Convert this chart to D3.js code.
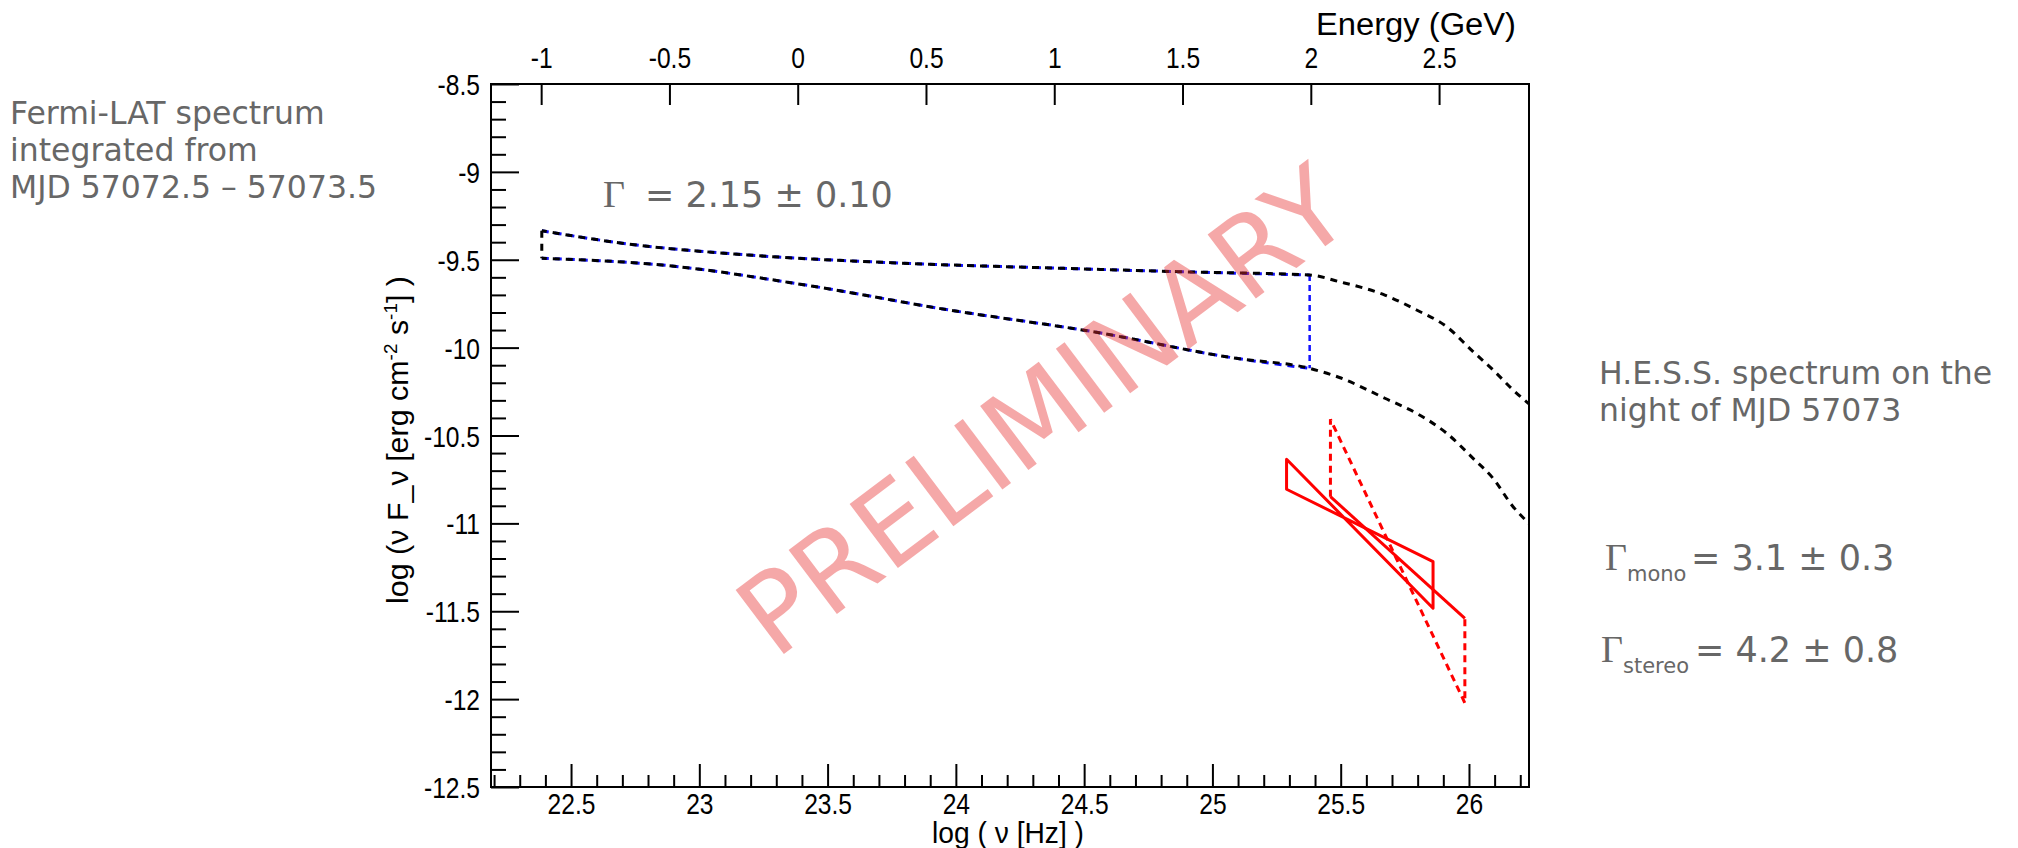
<!DOCTYPE html>
<html><head><meta charset="utf-8">
<script src="https://cdn.jsdelivr.net/npm/d3@7"></script>
<style>body{margin:0;background:#fff}svg{display:block}</style>
</head><body><svg id="c" width="2018" height="848"></svg>
<script>
// ---------------- data ----------------
// Fermi-LAT envelope (log nu [Hz], log nuFnu)
const upperNu  = [22.386, 22.699, 23.191, 23.750, 24.421, 24.869, 25.379, 25.495, 25.672, 25.796, 25.913, 26.016, 26.094, 26.172, 26.234];
const upperVal = [-9.335, -9.406, -9.473, -9.517, -9.549, -9.568, -9.587, -9.625, -9.701, -9.786, -9.881, -10.023, -10.127, -10.241, -10.32];
const lowerNu  = [22.386, 22.855, 23.414, 23.974, 24.533, 25.093, 25.379, 25.495, 25.672, 25.796, 25.913, 26.016, 26.094, 26.172, 26.234];
const lowerVal = [-9.492, -9.530, -9.644, -9.786, -9.909, -10.061, -10.118, -10.17, -10.288, -10.374, -10.487, -10.63, -10.744, -10.905, -11.0];
const fermiEndNu = 25.379;           // blue segment ends here (100 GeV)
// H.E.S.S. bowties: [nu_left, nu_right], steep edge, shallow edge
const monoNu = [25.289, 25.860];
const monoSteep = [-10.635, -11.483];
const monoShallow = [-10.806, -11.218];
const stereoNu = [25.460, 25.984];
const stereoSteep = [-10.408, -12.022];
const stereoShallow = [-10.848, -11.540];
// ticks
const xMajor = [22.5, 23, 23.5, 24, 24.5, 25, 25.5, 26];
const xMinor = [22.2,22.3,22.4,22.6,22.7,22.8,22.9,23.1,23.2,23.3,23.4,23.6,23.7,23.8,23.9,24.1,24.2,24.3,24.4,24.6,24.7,24.8,24.9,25.1,25.2,25.3,25.4,25.6,25.7,25.8,25.9,26.1,26.2];
const yMajor = [-8.5, -9, -9.5, -10, -10.5, -11, -11.5, -12, -12.5];
const yMinor = [-8.6,-8.7,-8.8,-8.9,-9.1,-9.2,-9.3,-9.4,-9.6,-9.7,-9.8,-9.9,-10.1,-10.2,-10.3,-10.4,-10.6,-10.7,-10.8,-10.9,-11.1,-11.2,-11.3,-11.4,-11.6,-11.7,-11.8,-11.9,-12.1,-12.2,-12.3,-12.4];
const eTicks = [-1, -0.5, 0, 0.5, 1, 1.5, 2, 2.5];
const HZ_PER_GEV_LOG = 23.3835;

// ---------------- scales ----------------
const X0 = 491, X1 = 1529, Y0 = 84, Y1 = 787;
const x = d3.scaleLinear().domain([22.188, 26.234]).range([X0, X1]);
const y = d3.scaleLinear().domain([-12.5, -8.5]).range([Y1, Y0]);
const xe = d3.scaleLinear().domain([22.188 - HZ_PER_GEV_LOG, 26.234 - HZ_PER_GEV_LOG]).range([X0, X1]);

const svg = d3.select('#c');
svg.append('rect').attr('width', 2018).attr('height', 848).attr('fill', '#fff');

const AX_FONT = 'Liberation Sans, Arial, Helvetica, sans-serif';
const fmt = d => String(d);
const SX = 0.82;

function styleAxis(g) {
  g.select('.domain').remove();
  g.selectAll('.tick line').attr('stroke', '#000').attr('stroke-width', 2);
  g.selectAll('.tick text').attr('fill', '#000').style('font-family', AX_FONT).style('font-size', '30px');
}

// bottom axis
const gb = svg.append('g').attr('transform', `translate(0,${Y1})`);
gb.call(d3.axisBottom(x).tickValues(xMajor).tickSize(-23).tickSizeOuter(0).tickFormat(fmt));
styleAxis(gb);
gb.selectAll('.tick text').attr('y', 6).attr('dy', '0.71em').attr('transform', `scale(${SX},1)`);
const gbm = svg.append('g').attr('transform', `translate(0,${Y1})`);
gbm.call(d3.axisBottom(x).tickValues(xMinor).tickSize(-12).tickSizeOuter(0).tickFormat(''));
styleAxis(gbm);

// left axis
const gl = svg.append('g').attr('transform', `translate(${X0},0)`);
gl.call(d3.axisLeft(y).tickValues(yMajor).tickSize(-28).tickSizeOuter(0).tickFormat(fmt));
styleAxis(gl);
gl.selectAll('.tick text').attr('x', -11 / SX).attr('dy', '0.35em').attr('transform', `scale(${SX},1)`);
const glm = svg.append('g').attr('transform', `translate(${X0},0)`);
glm.call(d3.axisLeft(y).tickValues(yMinor).tickSize(-15).tickSizeOuter(0).tickFormat(''));
styleAxis(glm);

// top axis (energy)
const gt = svg.append('g').attr('transform', `translate(0,${Y0})`);
gt.call(d3.axisTop(xe).tickValues(eTicks).tickSize(-21).tickSizeOuter(0).tickFormat(fmt));
styleAxis(gt);
gt.selectAll('.tick text').attr('y', -16).attr('dy', '0').attr('transform', `scale(${SX},1)`);

// frame
svg.append('rect').attr('x', X0).attr('y', Y0).attr('width', X1 - X0).attr('height', Y1 - Y0)
  .attr('fill', 'none').attr('stroke', '#000').attr('stroke-width', 2);

// axis titles
svg.append('text').attr('x', 1516).attr('y', 35).attr('text-anchor', 'end')
  .style('font-family', AX_FONT).style('font-size', '31px')
  .attr('textLength', 200).attr('lengthAdjust', 'spacingAndGlyphs').text('Energy (GeV)');
svg.append('text').attr('x', 1008).attr('y', 843).attr('text-anchor', 'middle')
  .style('font-family', AX_FONT).style('font-size', '29px')
  .attr('textLength', 152).attr('lengthAdjust', 'spacingAndGlyphs').text('log ( ν [Hz] )');
const yt = svg.append('text').attr('transform', 'translate(408,440) rotate(-90)').attr('text-anchor', 'middle')
  .style('font-family', AX_FONT).style('font-size', '29px').attr('fill', '#000')
  .attr('textLength', 328).attr('lengthAdjust', 'spacingAndGlyphs');
yt.append('tspan').text('log (ν F_ν [erg cm');
yt.append('tspan').attr('dy', -11).style('font-size', '18px').text('-2');
yt.append('tspan').attr('dy', 11).text(' s');
yt.append('tspan').attr('dy', -11).style('font-size', '18px').text('-1');
yt.append('tspan').attr('dy', 11).text('] )');

// ---------------- marks ----------------
const plot = svg.append('g');
const defs = svg.append('defs');
defs.append('clipPath').attr('id', 'fr').append('rect').attr('x', X0).attr('y', Y0).attr('width', X1 - X0).attr('height', Y1 - Y0);
plot.attr('clip-path', 'url(#fr)');

const line = d3.line().x(d => x(d[0])).y(d => y(d[1])).curve(d3.curveMonotoneX);
const up = upperNu.map((v, i) => [v, upperVal[i]]);
const lo = lowerNu.map((v, i) => [v, lowerVal[i]]);
const upF = up.filter(d => d[0] <= fermiEndNu);
const loF = lo.filter(d => d[0] <= fermiEndNu);

// blue (Fermi) overlay underneath
[upF, loF].forEach(p => plot.append('path').attr('d', line(p)).attr('fill', 'none')
  .attr('stroke', '#1010ff').attr('stroke-width', 3).attr('stroke-dasharray', '7,6'));
plot.append('line').attr('x1', x(fermiEndNu)).attr('x2', x(fermiEndNu))
  .attr('y1', y(upF[upF.length - 1][1])).attr('y2', y(loF[loF.length - 1][1]))
  .attr('stroke', '#1010ff').attr('stroke-width', 2.5).attr('stroke-dasharray', '6,4');
// black envelope
[up, lo].forEach(p => plot.append('path').attr('d', line(p)).attr('fill', 'none')
  .attr('stroke', '#000').attr('stroke-width', 3).attr('stroke-dasharray', '7,6').attr('stroke-dashoffset', 2));
plot.append('line').attr('x1', x(upperNu[0])).attr('x2', x(lowerNu[0]))
  .attr('y1', y(upperVal[0])).attr('y2', y(lowerVal[0]))
  .attr('stroke', '#000').attr('stroke-width', 3).attr('stroke-dasharray', '7,6');

// H.E.S.S. mono (solid)
const lin = d3.line().x(d => x(d[0])).y(d => y(d[1]));
const monoPoly = [[monoNu[0], monoSteep[0]], [monoNu[1], monoSteep[1]], [monoNu[1], monoShallow[1]], [monoNu[0], monoShallow[0]]];
plot.append('path').attr('d', lin(monoPoly) + 'Z').attr('fill', 'none')
  .attr('stroke', '#ff0000').attr('stroke-width', 3).attr('stroke-linejoin', 'round');
// H.E.S.S. stereo
plot.append('path').attr('d', lin([[stereoNu[0], stereoShallow[0]], [stereoNu[0], stereoSteep[0]], [stereoNu[1], stereoSteep[1]], [stereoNu[1], stereoShallow[1]]]))
  .attr('fill', 'none').attr('stroke', '#ff0000').attr('stroke-width', 3).attr('stroke-dasharray', '7,5');
plot.append('path').attr('d', lin([[stereoNu[0], stereoShallow[0]], [stereoNu[1], stereoShallow[1]]]))
  .attr('fill', 'none').attr('stroke', '#ff0000').attr('stroke-width', 3);

// ---------------- annotations ----------------
const NOTE_FONT = 'DejaVu Sans, Verdana, sans-serif';
const GREY = '#676767';
function note(xp, yp, txt, size) {
  return svg.append('text').attr('x', xp).attr('y', yp).attr('fill', GREY)
    .style('font-family', NOTE_FONT).style('font-size', size + 'px').text(txt);
}
note(10, 124, 'Fermi-LAT spectrum', 31.5);
note(10, 161, 'integrated from', 31.5);
note(10, 198, 'MJD 57072.5 – 57073.5', 31.5);
note(1599, 384, 'H.E.S.S. spectrum on the', 31.5);
note(1599, 421, 'night of MJD 57073', 31.5);

function gamma(xp, yp, sub, rest, restX) {
  svg.append('text').attr('x', xp).attr('y', yp).attr('fill', GREY)
    .style('font-family', 'Liberation Serif, Times New Roman, serif').style('font-size', '38px').text('Γ');
  if (sub) svg.append('text').attr('x', xp + 22).attr('y', yp + 11).attr('fill', GREY)
    .style('font-family', NOTE_FONT).style('font-size', '21px').text(sub);
  note(restX, yp, rest, 35);
}
gamma(603, 207, null, '= 2.15 ± 0.10', 645);
gamma(1605, 570, 'mono', '= 3.1 ± 0.3', 1691);
gamma(1601, 662, 'stereo', '= 4.2 ± 0.8', 1695);

// PRELIMINARY watermark
svg.append('text').attr('transform', 'translate(1042,410) rotate(-37)').attr('text-anchor', 'middle')
  .attr('dy', '0.36em').attr('fill', '#e83030').attr('fill-opacity', 0.42)
  .style('font-family', NOTE_FONT).style('font-size', '110px').text('PRELIMINARY');
</script></body></html>
